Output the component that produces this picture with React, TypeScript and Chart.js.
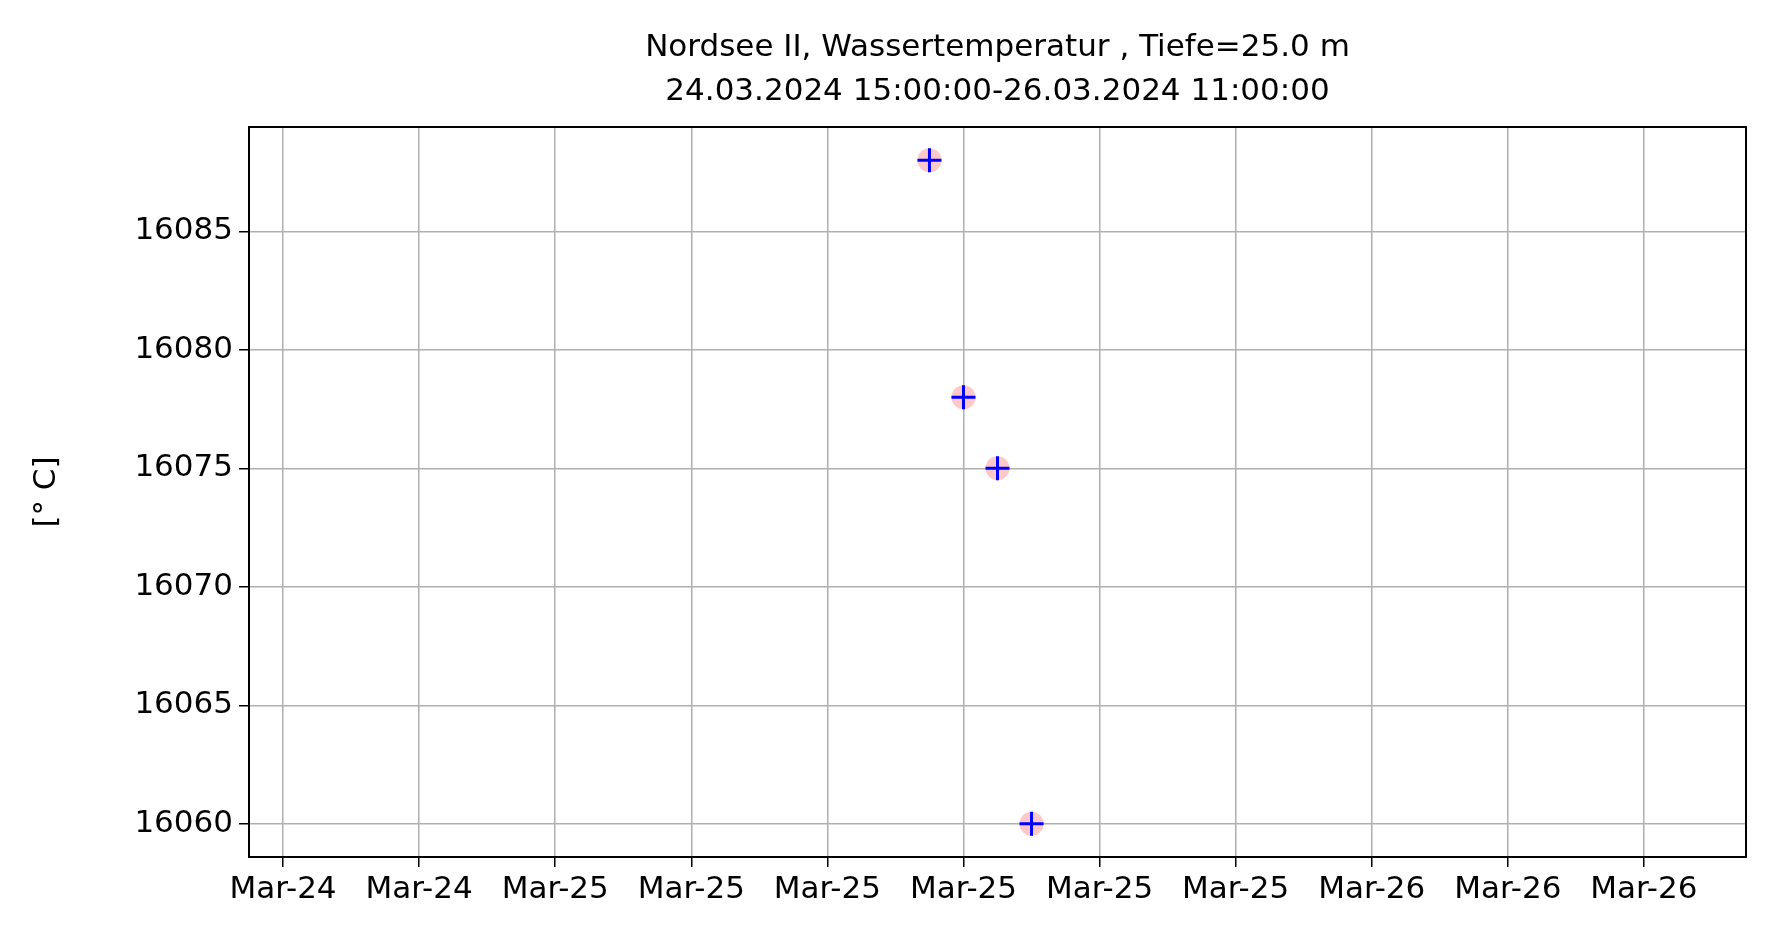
import React, { useEffect, useRef } from "react";
import { Chart, registerables } from "chart.js";
Chart.register(...registerables);

const titleLines = ["Nordsee II, Wassertemperatur , Tiefe=25.0 m", "24.03.2024 15:00:00-26.03.2024 11:00:00"];
// hours after 24.03.2024 15:00
const pointHours = [20, 21, 22, 23];
const pointValues = [16088, 16078, 16075, 16060];
const xTickHours = [1, 5, 9, 13, 17, 21, 25, 29, 33, 37, 41];
const xTickLabels = ["Mar-24", "Mar-24", "Mar-25", "Mar-25", "Mar-25", "Mar-25", "Mar-25", "Mar-25", "Mar-26", "Mar-26", "Mar-26"];
const yTicks = [16060, 16065, 16070, 16075, 16080, 16085];

const FONT = "'DejaVu Sans', sans-serif";

export default function App() {
  const ref = useRef<HTMLCanvasElement>(null);
  useEffect(() => {
    const pts = pointHours.map((h, i) => ({ x: h, y: pointValues[i] }));
    const titlePlugin = {
      id: "mtitle",
      afterDraw(c: any) {
        const ctx = c.ctx;
        const a = c.chartArea;
        ctx.save();
        ctx.fillStyle = "#000";
        ctx.font = `31px ${FONT}`;
        ctx.textAlign = "center";
        ctx.textBaseline = "middle";
        const cx = (a.left + a.right) / 2;
        ctx.fillText(titleLines[0], cx, 48);
        ctx.fillText(titleLines[1], cx, 92);
        ctx.restore();
      },
    };
    const chart = new Chart(ref.current!, {
      type: "scatter",
      data: {
        datasets: [
          { data: pts, order: 2, pointStyle: "circle", pointRadius: 12, backgroundColor: "rgba(255,120,120,0.4)", borderWidth: 0 },
          { data: pts, order: 1, pointStyle: "cross", pointRadius: 12, borderColor: "#0000ff", borderWidth: 3 },
        ],
      },
      options: {
        animation: false,
        responsive: false,
        layout: { padding: { left: 28, right: 23, top: 127, bottom: 0 } },
        plugins: { legend: { display: false }, tooltip: { enabled: false } },
        scales: {
          x: {
            type: "linear",
            min: 0,
            max: 44,
            afterBuildTicks: (s: any) => { s.ticks = xTickHours.map((v) => ({ value: v })); },
            afterFit: (s: any) => { s.height = 95; },
            ticks: {
              autoSkip: false,
              maxRotation: 0,
              color: "#000",
              font: { family: FONT, size: 31 },
              padding: 4,
              callback: (v: any) => xTickLabels[xTickHours.indexOf(Number(v))] ?? "",
            },
            grid: { color: "#b0b0b0", lineWidth: 1.5, tickColor: "#000", tickLength: 10 },
            border: { color: "#000", width: 2 },
          },
          y: {
            min: 16058.6,
            max: 16089.4,
            afterBuildTicks: (s: any) => { s.ticks = yTicks.map((v) => ({ value: v })); },
            afterFit: (s: any) => { s.width = 221; },
            ticks: { color: "#000", font: { family: FONT, size: 31 }, padding: 6, callback: (v: any) => String(v) },
            title: { display: true, text: "[° C]", color: "#000", font: { family: FONT, size: 31 }, padding: 0 },
            grid: { color: "#b0b0b0", lineWidth: 1.5, tickColor: "#000", tickLength: 10 },
            border: { color: "#000", width: 2 },
          },
        },
      },
      plugins: [
        titlePlugin,
        {
          id: "frame",
          afterDatasetsDraw(c: any) {
            const a = c.chartArea;
            const ctx = c.ctx;
            ctx.save();
            ctx.strokeStyle = "#000";
            ctx.lineWidth = 2;
            ctx.strokeRect(a.left, a.top, a.right - a.left, a.bottom - a.top);
            ctx.restore();
          },
        },
      ],
    });
    return () => chart.destroy();
  }, []);
  return (
    <div style={{ position: "fixed", left: 0, top: 0, width: 1769, height: 952, background: "#fff" }}>
      <canvas ref={ref} width={1769} height={952} style={{ width: 1769, height: 952 }} />
    </div>
  );
}
